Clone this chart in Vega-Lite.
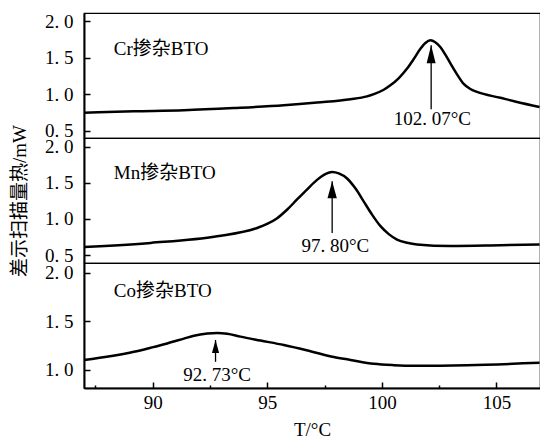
{
  "$schema": "https://vega.github.io/schema/vega-lite/v6.json",
  "padding": {"left": 9, "top": 11, "right": 0, "bottom": 0},
  "spacing": 0,
  "bounds": "flush",
  "background": "white",
  "config": {
    "view": {"stroke": "black", "strokeWidth": 1.2},
    "axis": {
      "grid": false,
      "domainColor": "black",
      "domainWidth": 2,
      "tickColor": "black",
      "tickWidth": 1.5,
      "labelFont": "Liberation Serif",
      "labelFontSize": 19,
      "labelColor": "black",
      "titleFont": "Liberation Serif, Noto Sans CJK SC",
      "titleFontSize": 19,
      "titleFontWeight": "normal",
      "titleColor": "black"
    },
    "axisY": {"labelPadding": 17},
    "axisX": {"labelPadding": 11}
  },
  "datasets": {
    "curves": [
      {"panel": "Cr", "T": 87.0, "v": 0.747},
      {"panel": "Cr", "T": 89.18, "v": 0.765},
      {"panel": "Cr", "T": 91.36, "v": 0.78},
      {"panel": "Cr", "T": 93.54, "v": 0.81},
      {"panel": "Cr", "T": 95.72, "v": 0.848},
      {"panel": "Cr", "T": 97.17, "v": 0.885},
      {"panel": "Cr", "T": 98.63, "v": 0.93},
      {"panel": "Cr", "T": 99.35, "v": 0.97},
      {"panel": "Cr", "T": 99.65, "v": 1.0},
      {"panel": "Cr", "T": 100.08, "v": 1.06},
      {"panel": "Cr", "T": 100.37, "v": 1.12},
      {"panel": "Cr", "T": 100.74, "v": 1.22},
      {"panel": "Cr", "T": 101.1, "v": 1.35},
      {"panel": "Cr", "T": 101.39, "v": 1.48},
      {"panel": "Cr", "T": 101.68, "v": 1.62},
      {"panel": "Cr", "T": 101.9, "v": 1.7},
      {"panel": "Cr", "T": 102.12, "v": 1.736},
      {"panel": "Cr", "T": 102.33, "v": 1.71},
      {"panel": "Cr", "T": 102.55, "v": 1.645},
      {"panel": "Cr", "T": 102.77, "v": 1.54},
      {"panel": "Cr", "T": 102.99, "v": 1.42},
      {"panel": "Cr", "T": 103.28, "v": 1.27},
      {"panel": "Cr", "T": 103.57, "v": 1.14},
      {"panel": "Cr", "T": 103.86, "v": 1.07},
      {"panel": "Cr", "T": 104.15, "v": 1.03},
      {"panel": "Cr", "T": 105.17, "v": 0.95},
      {"panel": "Cr", "T": 105.9, "v": 0.893},
      {"panel": "Cr", "T": 106.88, "v": 0.825},
      {"panel": "Mn", "T": 87.0, "v": 0.61},
      {"panel": "Mn", "T": 89.91, "v": 0.668},
      {"panel": "Mn", "T": 92.81, "v": 0.76},
      {"panel": "Mn", "T": 94.56, "v": 0.875},
      {"panel": "Mn", "T": 94.99, "v": 0.93},
      {"panel": "Mn", "T": 95.43, "v": 1.01},
      {"panel": "Mn", "T": 95.87, "v": 1.13},
      {"panel": "Mn", "T": 96.3, "v": 1.27},
      {"panel": "Mn", "T": 96.74, "v": 1.41},
      {"panel": "Mn", "T": 97.17, "v": 1.54},
      {"panel": "Mn", "T": 97.47, "v": 1.61},
      {"panel": "Mn", "T": 97.83, "v": 1.65},
      {"panel": "Mn", "T": 98.12, "v": 1.63},
      {"panel": "Mn", "T": 98.48, "v": 1.56},
      {"panel": "Mn", "T": 98.85, "v": 1.42},
      {"panel": "Mn", "T": 99.21, "v": 1.24},
      {"panel": "Mn", "T": 99.57, "v": 1.06},
      {"panel": "Mn", "T": 99.94, "v": 0.9},
      {"panel": "Mn", "T": 100.3, "v": 0.79},
      {"panel": "Mn", "T": 100.66, "v": 0.715},
      {"panel": "Mn", "T": 101.1, "v": 0.67},
      {"panel": "Mn", "T": 101.53, "v": 0.646},
      {"panel": "Mn", "T": 102.99, "v": 0.625},
      {"panel": "Mn", "T": 105.17, "v": 0.636},
      {"panel": "Mn", "T": 106.88, "v": 0.646},
      {"panel": "Co", "T": 87.0, "v": 1.098},
      {"panel": "Co", "T": 89.18, "v": 1.184},
      {"panel": "Co", "T": 89.91, "v": 1.226},
      {"panel": "Co", "T": 90.63, "v": 1.27},
      {"panel": "Co", "T": 91.36, "v": 1.32},
      {"panel": "Co", "T": 91.8, "v": 1.35},
      {"panel": "Co", "T": 92.38, "v": 1.372},
      {"panel": "Co", "T": 92.81, "v": 1.378},
      {"panel": "Co", "T": 93.25, "v": 1.37},
      {"panel": "Co", "T": 93.83, "v": 1.34},
      {"panel": "Co", "T": 94.7, "v": 1.3},
      {"panel": "Co", "T": 95.72, "v": 1.254},
      {"panel": "Co", "T": 96.88, "v": 1.19},
      {"panel": "Co", "T": 97.9, "v": 1.13},
      {"panel": "Co", "T": 98.63, "v": 1.1},
      {"panel": "Co", "T": 99.65, "v": 1.06},
      {"panel": "Co", "T": 100.52, "v": 1.046},
      {"panel": "Co", "T": 101.53, "v": 1.04},
      {"panel": "Co", "T": 103.72, "v": 1.046},
      {"panel": "Co", "T": 106.88, "v": 1.07}
    ],
    "notes": [
      {"panel": "Cr", "name": "Cr掺杂BTO", "nameT": 88.3, "nameV": 1.62, "label": "102. 07°C", "labelT": 102.2, "labelV": 0.655, "arrowT": 102.15, "tipV": 1.67, "baseV": 0.795},
      {"panel": "Mn", "name": "Mn掺杂BTO", "nameT": 88.3, "nameV": 1.63, "label": "97. 80°C", "labelT": 97.97, "labelV": 0.63, "arrowT": 97.83, "tipV": 1.52, "baseV": 0.806},
      {"panel": "Co", "name": "Co掺杂BTO", "nameT": 88.3, "nameV": 1.81, "label": "92. 73°C", "labelT": 92.81, "labelV": 0.94, "arrowT": 92.74, "tipV": 1.306, "baseV": 1.08}
    ]
  },
  "vconcat": [
    {
      "width": 456,
      "height": 125,
      "layer": [
        {
          "data": {"name": "curves"},
          "transform": [{"filter": "datum.panel === 'Cr'"}],
          "mark": {"type": "line", "interpolate": "monotone", "stroke": "black", "strokeWidth": 2.5},
          "encoding": {
            "x": {"field": "T", "type": "quantitative", "scale": {"domain": [87, 106.9], "nice": false, "zero": false}, "axis": null},
            "y": {"field": "v", "type": "quantitative", "scale": {"domain": [0.4, 2.11], "nice": false, "zero": false},
              "axis": {"values": [0.5, 0.75, 1.0, 1.25, 1.5, 1.75, 2.0], "title": null,
                "labelExpr": "abs(datum.value*2 - round(datum.value*2)) < 0.01 ? replace(format(datum.value, '.1f'), '.', '. ') : ''",
                "tickSize": {"condition": {"test": "abs(datum.value*2 - round(datum.value*2)) < 0.01", "value": -6}, "value": -3}}}
          }
        },
        {
          "data": {"name": "notes"},
          "transform": [{"filter": "datum.panel === 'Cr'"}],
          "mark": {"type": "text", "align": "left", "baseline": "middle", "font": "Liberation Serif, Noto Sans CJK SC", "fontSize": 19, "color": "black"},
          "encoding": {"x": {"field": "nameT", "type": "quantitative"}, "y": {"field": "nameV", "type": "quantitative"}, "text": {"field": "name"}}
        },
        {
          "data": {"name": "notes"},
          "transform": [{"filter": "datum.panel === 'Cr'"}],
          "mark": {"type": "rule", "color": "black", "strokeWidth": 1.3},
          "encoding": {"x": {"field": "arrowT", "type": "quantitative"}, "y": {"field": "tipV", "type": "quantitative"}, "y2": {"field": "baseV"}}
        },
        {
          "data": {"name": "notes"},
          "transform": [{"filter": "datum.panel === 'Cr'"}],
          "mark": {"type": "point", "shape": "M0,0L0.5,2L-0.5,2Z", "filled": true, "color": "black", "opacity": 1, "size": 324, "strokeWidth": 0},
          "encoding": {"x": {"field": "arrowT", "type": "quantitative"}, "y": {"field": "tipV", "type": "quantitative"}}
        },
        {
          "data": {"name": "notes"},
          "transform": [{"filter": "datum.panel === 'Cr'"}],
          "mark": {"type": "text", "align": "center", "baseline": "middle", "font": "Liberation Serif", "fontSize": 19, "color": "black"},
          "encoding": {"x": {"field": "labelT", "type": "quantitative"}, "y": {"field": "labelV", "type": "quantitative"}, "text": {"field": "label"}}
        }
      ]
    },
    {
      "width": 456,
      "height": 125,
      "layer": [
        {
          "data": {"name": "curves"},
          "transform": [{"filter": "datum.panel === 'Mn'"}],
          "mark": {"type": "line", "interpolate": "monotone", "stroke": "black", "strokeWidth": 2.5},
          "encoding": {
            "x": {"field": "T", "type": "quantitative", "scale": {"domain": [87, 106.9], "nice": false, "zero": false}, "axis": null},
            "y": {"field": "v", "type": "quantitative", "scale": {"domain": [0.39, 2.12], "nice": false, "zero": false},
              "axis": {"values": [0.5, 0.75, 1.0, 1.25, 1.5, 1.75, 2.0], "title": "差示扫描量热/mW", "titlePadding": 15,
                "labelExpr": "abs(datum.value*2 - round(datum.value*2)) < 0.01 ? replace(format(datum.value, '.1f'), '.', '. ') : ''",
                "tickSize": {"condition": {"test": "abs(datum.value*2 - round(datum.value*2)) < 0.01", "value": -6}, "value": -3}}}
          }
        },
        {
          "data": {"name": "notes"},
          "transform": [{"filter": "datum.panel === 'Mn'"}],
          "mark": {"type": "text", "align": "left", "baseline": "middle", "font": "Liberation Serif, Noto Sans CJK SC", "fontSize": 19, "color": "black"},
          "encoding": {"x": {"field": "nameT", "type": "quantitative"}, "y": {"field": "nameV", "type": "quantitative"}, "text": {"field": "name"}}
        },
        {
          "data": {"name": "notes"},
          "transform": [{"filter": "datum.panel === 'Mn'"}],
          "mark": {"type": "rule", "color": "black", "strokeWidth": 1.3},
          "encoding": {"x": {"field": "arrowT", "type": "quantitative"}, "y": {"field": "tipV", "type": "quantitative"}, "y2": {"field": "baseV"}}
        },
        {
          "data": {"name": "notes"},
          "transform": [{"filter": "datum.panel === 'Mn'"}],
          "mark": {"type": "point", "shape": "M0,0L0.55,2L-0.55,2Z", "filled": true, "color": "black", "opacity": 1, "size": 289, "strokeWidth": 0},
          "encoding": {"x": {"field": "arrowT", "type": "quantitative"}, "y": {"field": "tipV", "type": "quantitative"}}
        },
        {
          "data": {"name": "notes"},
          "transform": [{"filter": "datum.panel === 'Mn'"}],
          "mark": {"type": "text", "align": "center", "baseline": "middle", "font": "Liberation Serif", "fontSize": 19, "color": "black"},
          "encoding": {"x": {"field": "labelT", "type": "quantitative"}, "y": {"field": "labelV", "type": "quantitative"}, "text": {"field": "label"}}
        }
      ]
    },
    {
      "width": 456,
      "height": 125,
      "layer": [
        {
          "data": {"name": "curves"},
          "transform": [{"filter": "datum.panel === 'Co'"}],
          "mark": {"type": "line", "interpolate": "monotone", "stroke": "black", "strokeWidth": 2.5},
          "encoding": {
            "x": {"field": "T", "type": "quantitative", "scale": {"domain": [87, 106.9], "nice": false, "zero": false},
              "axis": {"values": [87.5, 90, 92.5, 95, 97.5, 100, 102.5, 105], "title": "T/°C", "titlePadding": 8,
                "labelExpr": "datum.value % 5 === 0 ? datum.label : ''",
                "tickSize": {"condition": {"test": "datum.value % 5 === 0", "value": -6}, "value": -3}}},
            "y": {"field": "v", "type": "quantitative", "scale": {"domain": [0.81, 2.1], "nice": false, "zero": false},
              "axis": {"values": [1.0, 1.25, 1.5, 1.75, 2.0], "title": null,
                "labelExpr": "abs(datum.value*2 - round(datum.value*2)) < 0.01 ? replace(format(datum.value, '.1f'), '.', '. ') : ''",
                "tickSize": {"condition": {"test": "abs(datum.value*2 - round(datum.value*2)) < 0.01", "value": -6}, "value": -3}}}
          }
        },
        {
          "data": {"name": "notes"},
          "transform": [{"filter": "datum.panel === 'Co'"}],
          "mark": {"type": "text", "align": "left", "baseline": "middle", "font": "Liberation Serif, Noto Sans CJK SC", "fontSize": 19, "color": "black"},
          "encoding": {"x": {"field": "nameT", "type": "quantitative"}, "y": {"field": "nameV", "type": "quantitative"}, "text": {"field": "name"}}
        },
        {
          "data": {"name": "notes"},
          "transform": [{"filter": "datum.panel === 'Co'"}],
          "mark": {"type": "rule", "color": "black", "strokeWidth": 1.3},
          "encoding": {"x": {"field": "arrowT", "type": "quantitative"}, "y": {"field": "tipV", "type": "quantitative"}, "y2": {"field": "baseV"}}
        },
        {
          "data": {"name": "notes"},
          "transform": [{"filter": "datum.panel === 'Co'"}],
          "mark": {"type": "point", "shape": "M0,0L0.55,2L-0.55,2Z", "filled": true, "color": "black", "opacity": 1, "size": 169, "strokeWidth": 0},
          "encoding": {"x": {"field": "arrowT", "type": "quantitative"}, "y": {"field": "tipV", "type": "quantitative"}}
        },
        {
          "data": {"name": "notes"},
          "transform": [{"filter": "datum.panel === 'Co'"}],
          "mark": {"type": "text", "align": "center", "baseline": "middle", "font": "Liberation Serif", "fontSize": 19, "color": "black"},
          "encoding": {"x": {"field": "labelT", "type": "quantitative"}, "y": {"field": "labelV", "type": "quantitative"}, "text": {"field": "label"}}
        }
      ]
    }
  ]
}
